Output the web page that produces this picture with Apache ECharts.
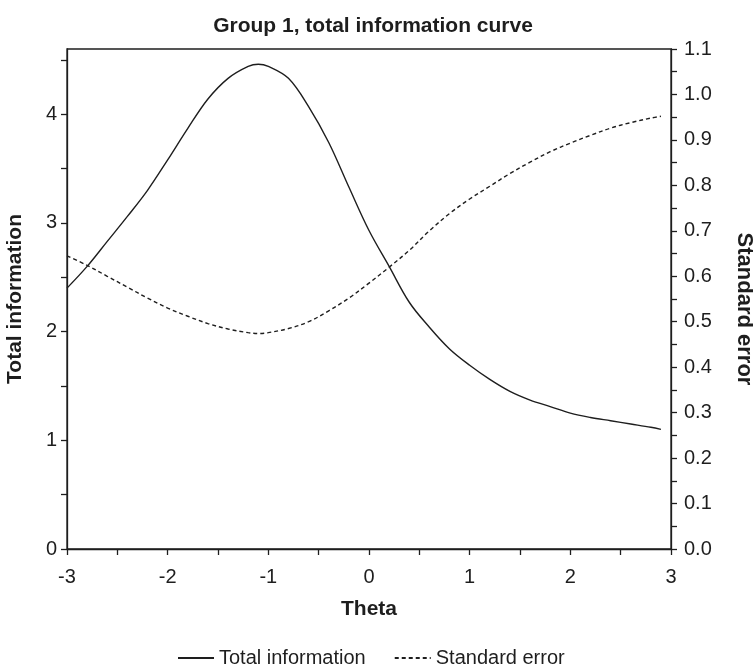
<!DOCTYPE html>
<html>
<head>
<meta charset="utf-8">
<script src="https://cdn.jsdelivr.net/npm/echarts@6/dist/echarts.min.js"></script>
<style>
html,body{margin:0;padding:0;background:#fff;}
#chart{width:753px;height:666px;}
</style>
</head>
<body>
<div id="chart"></div>
<script>
// Theta values
const theta = [-3.0,-2.8,-2.6,-2.4,-2.2,-2.0,-1.8,-1.6,-1.4,-1.2,-1.1,-1.0,-0.8,-0.6,-0.4,-0.2,0.0,0.2,0.4,0.6,0.8,1.0,1.2,1.4,1.6,1.8,2.0,2.2,2.4,2.6,2.8,2.9];
// Total information (left axis)
const totalInfo = [2.40,2.60,2.83,3.06,3.30,3.58,3.87,4.14,4.33,4.44,4.46,4.44,4.33,4.07,3.74,3.33,2.93,2.60,2.27,2.04,1.84,1.69,1.56,1.45,1.37,1.31,1.25,1.21,1.18,1.15,1.12,1.10];
// Standard error (right axis)
const stdError = [0.645,0.624,0.600,0.576,0.552,0.530,0.512,0.496,0.484,0.476,0.474,0.476,0.485,0.500,0.524,0.552,0.585,0.620,0.657,0.700,0.738,0.770,0.798,0.826,0.851,0.874,0.893,0.910,0.926,0.938,0.948,0.952];
// Axis ticks and labels
const xTicks = [-3,-2.5,-2,-1.5,-1,-0.5,0,0.5,1,1.5,2,2.5,3];
const xLabels = [-3,-2,-1,0,1,2,3];
const leftTicks = [0,0.5,1,1.5,2,2.5,3,3.5,4,4.5];
const leftLabels = [0,1,2,3,4];
const rightTicks = [0,0.05,0.1,0.15,0.2,0.25,0.3,0.35,0.4,0.45,0.5,0.55,0.6,0.65,0.7,0.75,0.8,0.85,0.9,0.95,1.0,1.05,1.1];
const rightLabels = [0,0.1,0.2,0.3,0.4,0.5,0.6,0.7,0.8,0.9,1.0,1.1];

const FONT = "'Liberation Sans', Arial, sans-serif";
const INK = '#1e1e1e';

const chart = echarts.init(document.getElementById('chart'), null, {renderer: 'canvas'});
const axisLine = {show: true, onZero: false, lineStyle: {color: INK, width: 1.3}};
const tickStyle = {color: INK, width: 1.3};
chart.setOption({
  animation: false,
  backgroundColor: '#fff',
  title: {
    text: 'Group 1, total information curve',
    left: 368, top: 11, textAlign: 'center',
    textStyle: {fontFamily: FONT, fontSize: 21, fontWeight: 'bold', color: INK}
  },
  legend: {
    top: 643, left: 172,
    itemWidth: 36, itemHeight: 12, itemGap: 28,
    itemStyle: {opacity: 0},
    textStyle: {fontFamily: FONT, fontSize: 20, color: INK},
    data: ['Total information', 'Standard error']
  },
  graphic: [{
    type: 'text', x: 744, y: 309, rotation: -Math.PI / 2,
    style: {text: 'Standard error', fill: INK, font: "bold 22px 'Liberation Sans', Arial, sans-serif", align: 'center', verticalAlign: 'middle'}
  }],
  grid: {left: 67, right: 82, top: 49, bottom: 117, show: true, borderColor: INK, borderWidth: 1.3, outerBoundsMode: 'none'},
  xAxis: {
    type: 'value', min: -3, max: 3, interval: 0.5,
    name: 'Theta', nameLocation: 'middle', nameGap: 50,
    nameTextStyle: {fontFamily: FONT, fontSize: 21, fontWeight: 'bold', color: INK},
    axisLine: axisLine, splitLine: {show: false},
    axisTick: {show: true, inside: false, length: 6, lineStyle: tickStyle, customValues: xTicks},
    axisLabel: {margin: 18, fontFamily: FONT, fontSize: 20, color: INK, customValues: xLabels, formatter: v => String(v)}
  },
  yAxis: [
    {
      type: 'value', position: 'left', min: 0, max: 4.6, interval: 0.5,
      name: 'Total information', nameLocation: 'middle', nameGap: 41, nameRotate: 90,
      nameTextStyle: {fontFamily: FONT, fontSize: 21, fontWeight: 'bold', color: INK},
      axisLine: axisLine, splitLine: {show: false},
      axisTick: {show: true, inside: false, length: 6, lineStyle: tickStyle, customValues: leftTicks},
      axisLabel: {margin: 10, fontFamily: FONT, fontSize: 20, color: INK, customValues: leftLabels, formatter: v => String(v)}
    },
    {
      type: 'value', position: 'right', min: 0, max: 1.1, interval: 0.05,
      axisLine: axisLine, splitLine: {show: false},
      axisTick: {show: true, inside: false, length: 6, lineStyle: tickStyle, customValues: rightTicks},
      axisLabel: {margin: 13, fontFamily: FONT, fontSize: 20, color: INK, customValues: rightLabels, formatter: v => v.toFixed(1)}
    }
  ],
  series: [
    {
      name: 'Total information', type: 'line', yAxisIndex: 0,
      data: theta.map((t, i) => [t, totalInfo[i]]),
      smooth: 0.35, symbol: 'none',
      lineStyle: {color: INK, width: 1.4, type: 'solid'},
      itemStyle: {color: INK}
    },
    {
      name: 'Standard error', type: 'line', yAxisIndex: 1,
      data: theta.map((t, i) => [t, stdError[i]]),
      smooth: 0.35, symbol: 'none',
      lineStyle: {color: INK, width: 1.4, type: [4, 3]},
      itemStyle: {color: INK}
    }
  ]
});
</script>
</body>
</html>
